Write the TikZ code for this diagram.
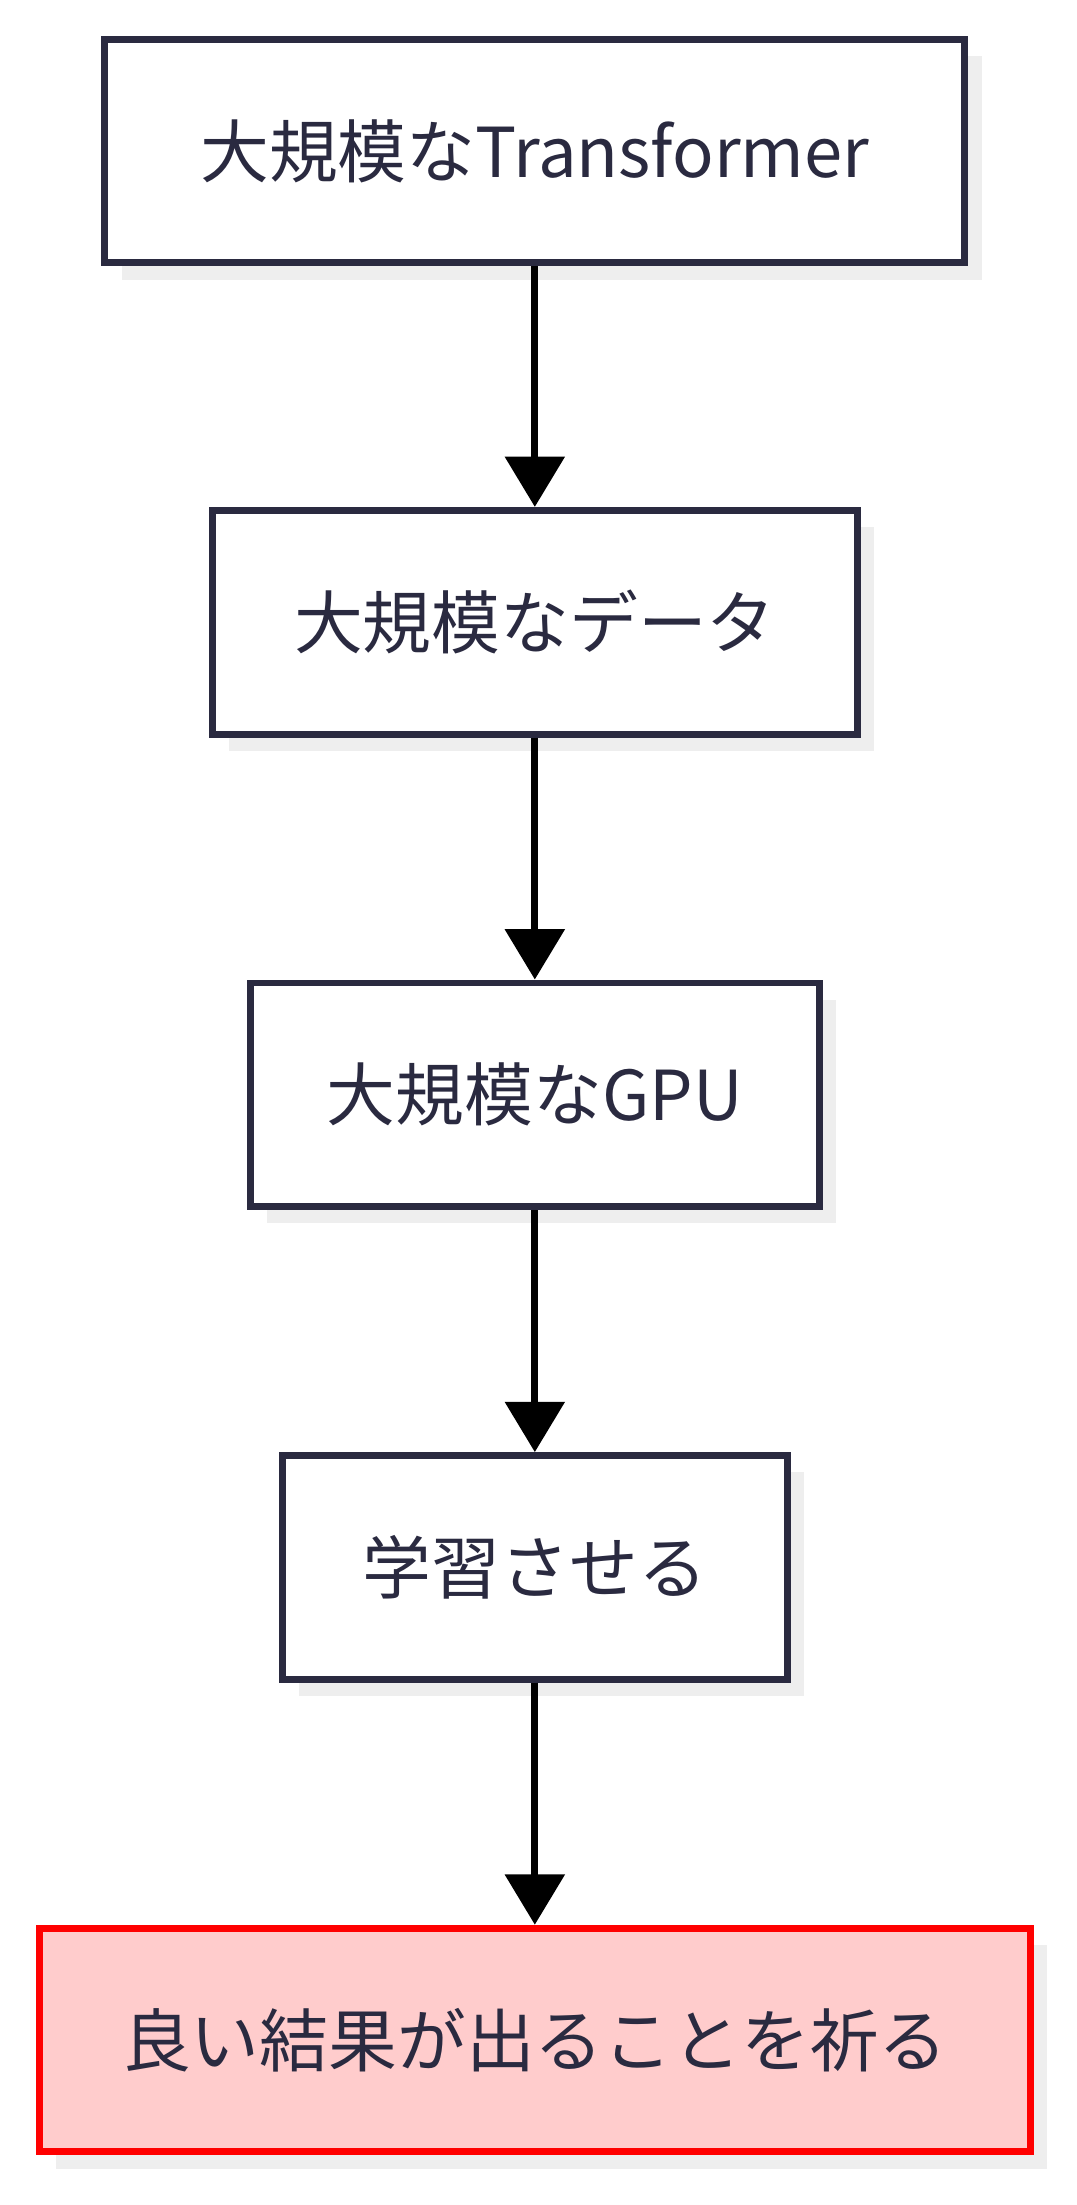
\documentclass[tikz,border=0pt]{standalone}
\usepackage{fontspec}
\setmainfont{Noto Sans CJK JP}
\usetikzlibrary{positioning,arrows.meta,shadows}
\definecolor{boxline}{HTML}{2A2A40}
\definecolor{shade}{HTML}{EEEEEE}
\definecolor{hopefill}{HTML}{FFCCCC}
\tikzset{>={Triangle[width=0.42cm,length=0.36cm]}}
\tikzset{stage/.style={draw=boxline,line width=1.4pt,fill=white,minimum height=1.6cm,
  inner sep=0pt,text=boxline,font=\fontsize{14}{17}\selectfont,
  drop shadow={shadow xshift=0.12cm,shadow yshift=-0.12cm,fill=shade,opacity=1}}}
\tikzset{flow/.style={->,line width=1.4pt,black}}

\begin{document}
\begin{tikzpicture}
\useasboundingbox (0,0) rectangle (7.7,-15.77);
\node[stage,minimum width=6.15cm] (model) at (3.825,-1.08) {大規模なTransformer};
\node[stage,minimum width=4.61cm] (data) at (3.825,-4.45) {大規模なデータ};
\node[stage,minimum width=4.07cm] (gpu) at (3.825,-7.83) {大規模なGPU};
\node[stage,minimum width=3.61cm] (train) at (3.825,-11.21) {学習させる};
\node[stage,minimum width=7.09cm,draw=red,fill=hopefill] (pray) at (3.825,-14.59) {良い結果が出ることを祈る};

\draw[flow] (model) -- (data);
\draw[flow] (data) -- (gpu);
\draw[flow] (gpu) -- (train);
\draw[flow] (train) -- (pray);
\end{tikzpicture}
\end{document}
